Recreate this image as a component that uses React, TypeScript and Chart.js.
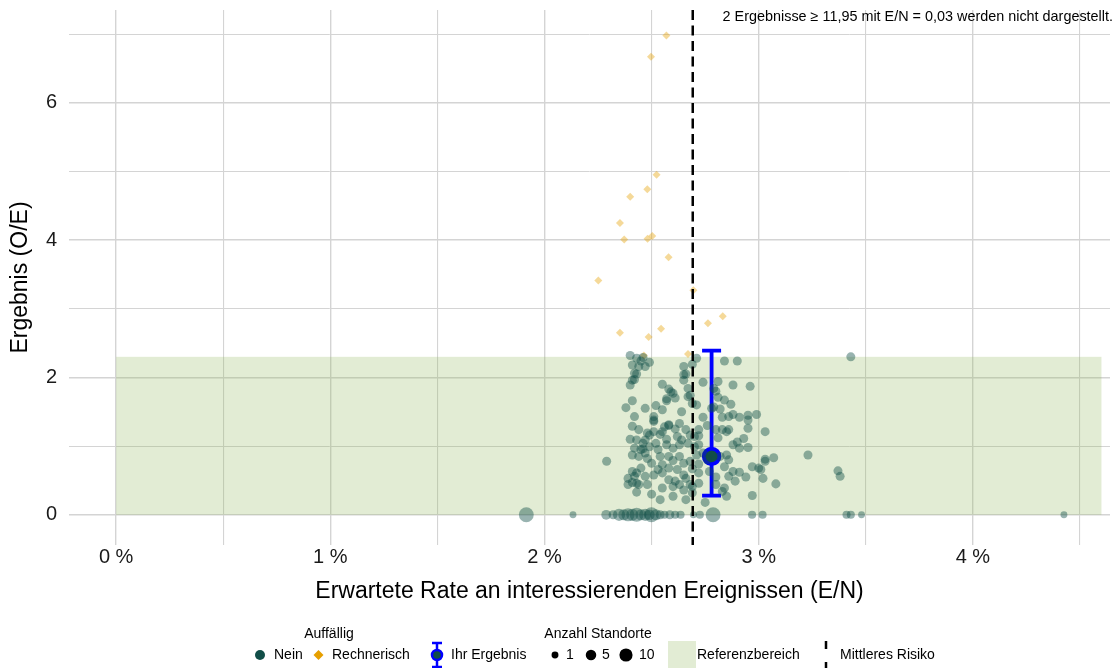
import React, { useEffect, useRef } from "react";
import { Chart, registerables } from "chart.js";

Chart.register(...registerables);

const FONT = "'Liberation Sans', Arial, Helvetica, sans-serif";

// Axis ticks
const xTickValues = [0, 0.5, 1, 1.5, 2, 2.5, 3, 3.5, 4, 4.5];
const xTickLabels = ["0 %", "", "1 %", "", "2 %", "", "3 %", "", "4 %", ""];
const yTickValues = [0, 1, 2, 3, 4, 5, 6, 7];
const yTickLabels = ["0", "", "2", "", "4", "", "6", ""];

// "Nein" results (E/N in %, O/E), each with cloudSiteCount sites
const neinX = [
  2.40, 2.43, 2.46, 2.49, 2.47, 2.44, 2.41, 2.65, 2.69, 2.71, 2.84, 2.90, 3.43, 2.42, 2.41, 2.66, 2.65, 2.74, 2.81, 2.79,
  2.88, 2.96, 2.58, 2.60, 2.57, 2.67, 2.67, 2.69, 2.71, 2.41, 2.80, 2.81, 2.84, 2.87, 2.47, 2.52, 2.55, 2.79, 2.82, 2.83,
  2.86, 2.88, 2.91, 2.95, 2.95, 2.99, 2.42, 2.51, 2.51, 2.56, 2.58, 2.55, 2.41, 2.44, 2.48, 2.51, 2.54, 2.66, 2.70, 2.72,
  2.72, 2.80, 2.81, 2.85, 2.83, 2.86, 2.95, 3.03, 2.43, 2.47, 2.49, 2.42, 2.46, 2.49, 2.53, 2.57, 2.60, 2.63, 2.64, 2.67,
  2.70, 2.72, 2.93, 2.90, 2.88, 2.91, 2.95, 2.41, 2.44, 2.48, 2.50, 2.54, 2.55, 2.58, 2.60, 2.63, 2.65, 2.68, 2.71, 2.74,
  2.82, 2.85, 2.86, 2.84, 3.03, 3.07, 3.23, 2.97, 3.00, 3.01, 3.03, 2.41, 2.43, 2.47, 2.51, 2.55, 2.58, 2.61, 2.65, 2.68,
  2.72, 2.72, 2.88, 2.91, 2.89, 2.86, 3.02, 3.08, 3.37, 3.38, 2.41, 2.44, 2.48, 2.55, 2.60, 2.63, 2.65, 2.69, 2.80, 2.84,
  2.85, 2.83, 2.43, 2.54, 2.66, 2.69, 2.75, 2.97, 2.40, 2.38, 2.40, 2.46, 2.45, 2.29, 2.45, 2.39, 2.42, 2.39, 2.43, 2.45,
  2.43, 2.42, 2.94, 2.65, 2.59, 2.57, 2.61, 2.68, 2.51, 2.58, 2.61, 2.63, 2.68, 2.62, 2.57, 2.52, 2.47, 2.58, 2.62, 2.53,
  2.69, 2.72, 2.76, 2.77, 2.80, 2.66, 2.50, 2.60, 2.74, 2.76, 2.78, 2.64, 2.55,
];
const neinY = [
  2.32, 2.28, 2.29, 2.22, 2.16, 2.16, 2.18, 2.16, 2.19, 2.28, 2.24, 2.24, 2.30, 2.06, 1.96, 2.05, 1.96, 1.93, 1.94, 1.84,
  1.89, 1.87, 1.83, 1.77, 1.69, 1.84, 1.72, 1.62, 1.60, 1.66, 1.80, 1.71, 1.67, 1.61, 1.55, 1.59, 1.53, 1.57, 1.54, 1.42,
  1.43, 1.46, 1.42, 1.45, 1.38, 1.46, 1.43, 1.43, 1.38, 1.28, 1.31, 1.21, 1.29, 1.24, 1.19, 1.21, 1.17, 1.24, 1.14, 1.15,
  1.24, 1.24, 1.12, 1.21, 1.24, 1.24, 1.26, 1.21, 1.09, 1.09, 1.16, 0.97, 0.96, 0.99, 0.95, 1.02, 0.97, 1.02, 1.09, 1.04,
  0.99, 1.02, 1.11, 1.06, 1.02, 0.97, 0.98, 0.87, 0.85, 0.82, 0.75, 0.85, 0.73, 0.85, 0.79, 0.85, 0.75, 0.78, 0.87, 0.90,
  0.85, 0.87, 0.80, 0.70, 0.81, 0.83, 0.87, 0.70, 0.68, 0.66, 0.78, 0.63, 0.61, 0.56, 0.58, 0.61, 0.51, 0.49, 0.58, 0.44,
  0.61, 0.46, 0.63, 0.62, 0.49, 0.56, 0.53, 0.45, 0.64, 0.56, 0.47, 0.44, 0.44, 0.39, 0.41, 0.44, 0.36, 0.41, 0.44, 0.39,
  0.27, 0.34, 0.33, 0.22, 0.22, 0.32, 0.18, 0.28, 1.89, 1.56, 1.10, 1.04, 0.95, 0.78, 0.68, 0.53, 0.56, 0.44, 0.46, 2.24,
  2.05, 1.97, 0.55, 2.04, 1.79, 1.66, 1.70, 1.74, 1.36, 1.30, 1.25, 1.33, 1.16, 1.14, 1.10, 1.04, 0.90, 0.68, 0.66, 0.66,
  0.67, 0.74, 0.80, 0.63, 0.55, 0.53, 0.30, 0.27, 1.42, 1.30, 1.55, 1.50, 1.90,
];
const cloudSiteCount = 3;

// "Nein" results with O/E = 0 and their number of sites
const zeroX = [1.915, 2.133, 2.288, 2.32, 2.348, 2.37, 2.39, 2.41, 2.43, 2.45, 2.47, 2.49, 2.499, 2.52, 2.54, 2.56, 2.585, 2.61, 2.635, 2.695, 2.725, 2.787, 2.969, 3.018, 3.41, 3.43, 3.48, 4.425];
const zeroN = [14, 1, 4, 3, 8, 6, 10, 8, 12, 6, 8, 5, 14, 6, 3, 2, 3, 2, 2, 1, 2, 14, 2, 2, 2, 2, 1, 1];

// "Rechnerisch" results
const rechX = [2.569, 2.497, 2.523, 2.480, 2.400, 2.352, 2.372, 2.481, 2.503, 2.579, 2.251, 2.695, 2.832, 2.763, 2.352, 2.544, 2.486, 2.464, 2.670];
const rechY = [6.98, 6.67, 4.95, 4.74, 4.63, 4.25, 4.01, 4.02, 4.06, 3.75, 3.41, 3.27, 2.89, 2.79, 2.65, 2.71, 2.59, 2.32, 2.34];

// Ihr Ergebnis
const ihrX = [2.78];
const ihrY = [0.85];
const ihrLower = [0.28];
const ihrUpper = [2.39];

// Referenzbereich & Mittleres Risiko
const refX = [0, 4.6];
const refY = [0, 2.3];
const meanRisk = 2.692;

const TEAL_A = "rgba(16,78,72,0.43)";
const TEAL = "#114e48";
const ORANGE_A = "rgba(230,159,0,0.4)";
const ORANGE = "#e69f00";
const BLUE = "#0000ff";
const BAND = "rgba(139,179,83,0.25)";
const BAND_SOLID = "#e2ecd4";

const sizeRadius = (n: number) => 2 + 1.45 * Math.sqrt(n);

const bandPlugin = {
  id: "band",
  beforeDatasetsDraw(chart: any) {
    const { ctx, scales } = chart;
    const x0 = scales.x.getPixelForValue(refX[0]);
    const x1 = scales.x.getPixelForValue(refX[1]);
    const y0 = scales.y.getPixelForValue(refY[0]);
    const y1 = scales.y.getPixelForValue(refY[1]);
    ctx.save();
    ctx.fillStyle = BAND;
    ctx.fillRect(x0, y1, x1 - x0, y0 - y1);
    ctx.restore();
  },
};

const errorBarPlugin = {
  id: "errbar",
  beforeDatasetDraw(chart: any, args: any) {
    if (args.index !== 2) return;
    const { ctx, scales } = chart;
    ctx.save();
    ctx.strokeStyle = BLUE;
    ctx.lineWidth = 3.8;
    for (let i = 0; i < ihrX.length; i++) {
      const px = scales.x.getPixelForValue(ihrX[i]);
      const pLo = scales.y.getPixelForValue(ihrLower[i]);
      const pHi = scales.y.getPixelForValue(ihrUpper[i]);
      ctx.beginPath();
      ctx.moveTo(px, pLo);
      ctx.lineTo(px, pHi);
      ctx.moveTo(px - 9.5, pLo);
      ctx.lineTo(px + 9.5, pLo);
      ctx.moveTo(px - 9.5, pHi);
      ctx.lineTo(px + 9.5, pHi);
      ctx.stroke();
    }
    ctx.restore();
  },
};

const overlayPlugin = {
  id: "overlay",
  afterDatasetsDraw(chart: any) {
    const { ctx, scales, chartArea } = chart;
    const px = scales.x.getPixelForValue(meanRisk);
    ctx.save();
    ctx.strokeStyle = "#000";
    ctx.lineWidth = 2.5;
    ctx.setLineDash([10, 5.5]);
    ctx.beginPath();
    ctx.moveTo(px, chartArea.top);
    ctx.lineTo(px, chartArea.bottom);
    ctx.stroke();
    ctx.restore();
  },
  afterDraw(chart: any) {
    const { ctx } = chart;
    ctx.save();
    ctx.fillStyle = "#000";
    ctx.font = `14.4px ${FONT}`;
    ctx.textBaseline = "middle";
    ctx.textAlign = "right";
    ctx.fillText("2 Ergebnisse \u2265 11,95 mit E/N = 0,03 werden nicht dargestellt.", 1113, 17);

    ctx.font = `14px ${FONT}`;
    // Legend titles
    ctx.textAlign = "center";
    ctx.fillText("Auffällig", 329, 634);
    ctx.fillText("Anzahl Standorte", 598, 634);

    const yi = 655;
    ctx.textAlign = "left";
    // Nein
    ctx.fillStyle = TEAL;
    ctx.beginPath();
    ctx.arc(260, yi, 5, 0, Math.PI * 2);
    ctx.fill();
    ctx.fillStyle = "#000";
    ctx.fillText("Nein", 274, yi);
    // Rechnerisch
    ctx.fillStyle = ORANGE;
    ctx.beginPath();
    ctx.moveTo(318.5, yi - 5);
    ctx.lineTo(323.5, yi);
    ctx.lineTo(318.5, yi + 5);
    ctx.lineTo(313.5, yi);
    ctx.closePath();
    ctx.fill();
    ctx.fillStyle = "#000";
    ctx.fillText("Rechnerisch", 332, yi);
    // Ihr Ergebnis
    ctx.strokeStyle = BLUE;
    ctx.lineWidth = 2.5;
    ctx.beginPath();
    ctx.moveTo(437, 643);
    ctx.lineTo(437, 667);
    ctx.moveTo(432, 643);
    ctx.lineTo(442, 643);
    ctx.moveTo(432, 667);
    ctx.lineTo(442, 667);
    ctx.stroke();
    ctx.fillStyle = TEAL;
    ctx.beginPath();
    ctx.arc(437, yi, 5, 0, Math.PI * 2);
    ctx.fill();
    ctx.stroke();
    ctx.fillStyle = "#000";
    ctx.fillText("Ihr Ergebnis", 451, yi);
    // sizes
    const sizes = [
      { n: 1, x: 555, tx: 566, label: "1" },
      { n: 5, x: 591, tx: 602, label: "5" },
      { n: 10, x: 626, tx: 639, label: "10" },
    ];
    for (const s of sizes) {
      ctx.fillStyle = "#000";
      ctx.beginPath();
      ctx.arc(s.x, yi, sizeRadius(s.n), 0, Math.PI * 2);
      ctx.fill();
      ctx.fillText(s.label, s.tx, yi);
    }
    // Referenzbereich
    ctx.fillStyle = BAND_SOLID;
    ctx.fillRect(668, 641, 28, 27);
    ctx.fillStyle = "#000";
    ctx.fillText("Referenzbereich", 697, yi);
    // Mittleres Risiko
    ctx.strokeStyle = "#000";
    ctx.lineWidth = 2.5;
    ctx.setLineDash([8, 13]);
    ctx.beginPath();
    ctx.moveTo(826, 641);
    ctx.lineTo(826, 669);
    ctx.stroke();
    ctx.setLineDash([]);
    ctx.fillText("Mittleres Risiko", 840, yi);
    ctx.restore();
  },
};

const zeroPadding = (s: any) => {
  s.paddingTop = 0;
  s.paddingBottom = 0;
  s.paddingLeft = 0;
  s.paddingRight = 0;
};

export default function App() {
  const ref = useRef<HTMLCanvasElement | null>(null);

  useEffect(() => {
    if (!ref.current) return;
    const neinData = [
      ...neinX.map((x, i) => ({ x, y: neinY[i], n: cloudSiteCount })),
      ...zeroX.map((x, i) => ({ x, y: 0, n: zeroN[i] })),
    ];
    const rechData = rechX.map((x, i) => ({ x, y: rechY[i] }));
    const ihrData = ihrX.map((x, i) => ({ x, y: ihrY[i] }));

    const gridColor = "#d4d4d4";
    const chart = new Chart(ref.current, {
      type: "scatter",
      data: {
        datasets: [
          {
            label: "Nein",
            data: neinData as any,
            backgroundColor: TEAL_A,
            borderWidth: 0,
            pointRadius: (c: any) => sizeRadius(c.raw ? c.raw.n : 1),
            pointHoverRadius: (c: any) => sizeRadius(c.raw ? c.raw.n : 1),
          },
          {
            label: "Rechnerisch",
            data: rechData,
            backgroundColor: ORANGE_A,
            borderWidth: 0,
            pointStyle: "rectRot",
            pointRadius: 4,
          },
          {
            label: "Ihr Ergebnis",
            data: ihrData,
            backgroundColor: TEAL,
            borderColor: BLUE,
            borderWidth: 3.8,
            pointRadius: 7.8,
          },
        ],
      },
      options: {
        animation: false,
        responsive: false,
        events: [],
        layout: { autoPadding: false, padding: { left: 0, right: 7, top: 10, bottom: 0 } },
        plugins: { legend: { display: false }, tooltip: { enabled: false } },
        scales: {
          x: {
            type: "linear",
            min: -0.22,
            max: 4.64,
            afterBuildTicks: (s: any) => {
              s.ticks = xTickValues.map((v) => ({ value: v }));
            },
            afterFit: (s: any) => {
              s.height = 123;
              zeroPadding(s);
            },
            border: { display: false },
            grid: {
              drawTicks: false,
              color: gridColor,
              lineWidth: (c: any) => (c.tick && Number.isInteger(c.tick.value) ? 1.4 : 1.1),
            },
            ticks: {
              autoSkip: false,
              maxRotation: 0,
              padding: 0,
              color: "#1a1a1a",
              font: { family: FONT, size: 20 },
              callback: (v: any) => xTickLabels[xTickValues.indexOf(Number(v))] ?? "",
            },
            title: {
              display: true,
              text: "Erwartete Rate an interessierenden Ereignissen (E/N)",
              color: "#000",
              font: { family: FONT, size: 23 },
              padding: { top: 0, bottom: 63 },
            },
          },
          y: {
            type: "linear",
            min: -0.44,
            max: 7.35,
            afterBuildTicks: (s: any) => {
              s.ticks = yTickValues.map((v) => ({ value: v }));
            },
            afterFit: (s: any) => {
              s.width = 69;
              zeroPadding(s);
            },
            border: { display: false },
            grid: {
              drawTicks: false,
              color: gridColor,
              lineWidth: (c: any) => (c.tick && c.tick.value % 2 === 0 ? 1.6 : 1.0),
            },
            ticks: {
              autoSkip: false,
              padding: 12,
              color: "#1a1a1a",
              font: { family: FONT, size: 20 },
              callback: (v: any) => yTickLabels[yTickValues.indexOf(Number(v))] ?? "",
            },
            title: {
              display: true,
              text: "Ergebnis (O/E)",
              color: "#000",
              font: { family: FONT, size: 23 },
              padding: { top: 7, bottom: 0 },
            },
          },
        },
      },
      plugins: [bandPlugin, errorBarPlugin, overlayPlugin],
    });
    return () => chart.destroy();
  }, []);

  return (
    <div style={{ position: "absolute", left: 0, top: 0, width: 1117, height: 668, background: "#fff" }}>
      <canvas ref={ref} width={1117} height={668} style={{ display: "block", width: 1117, height: 668 }} />
    </div>
  );
}
